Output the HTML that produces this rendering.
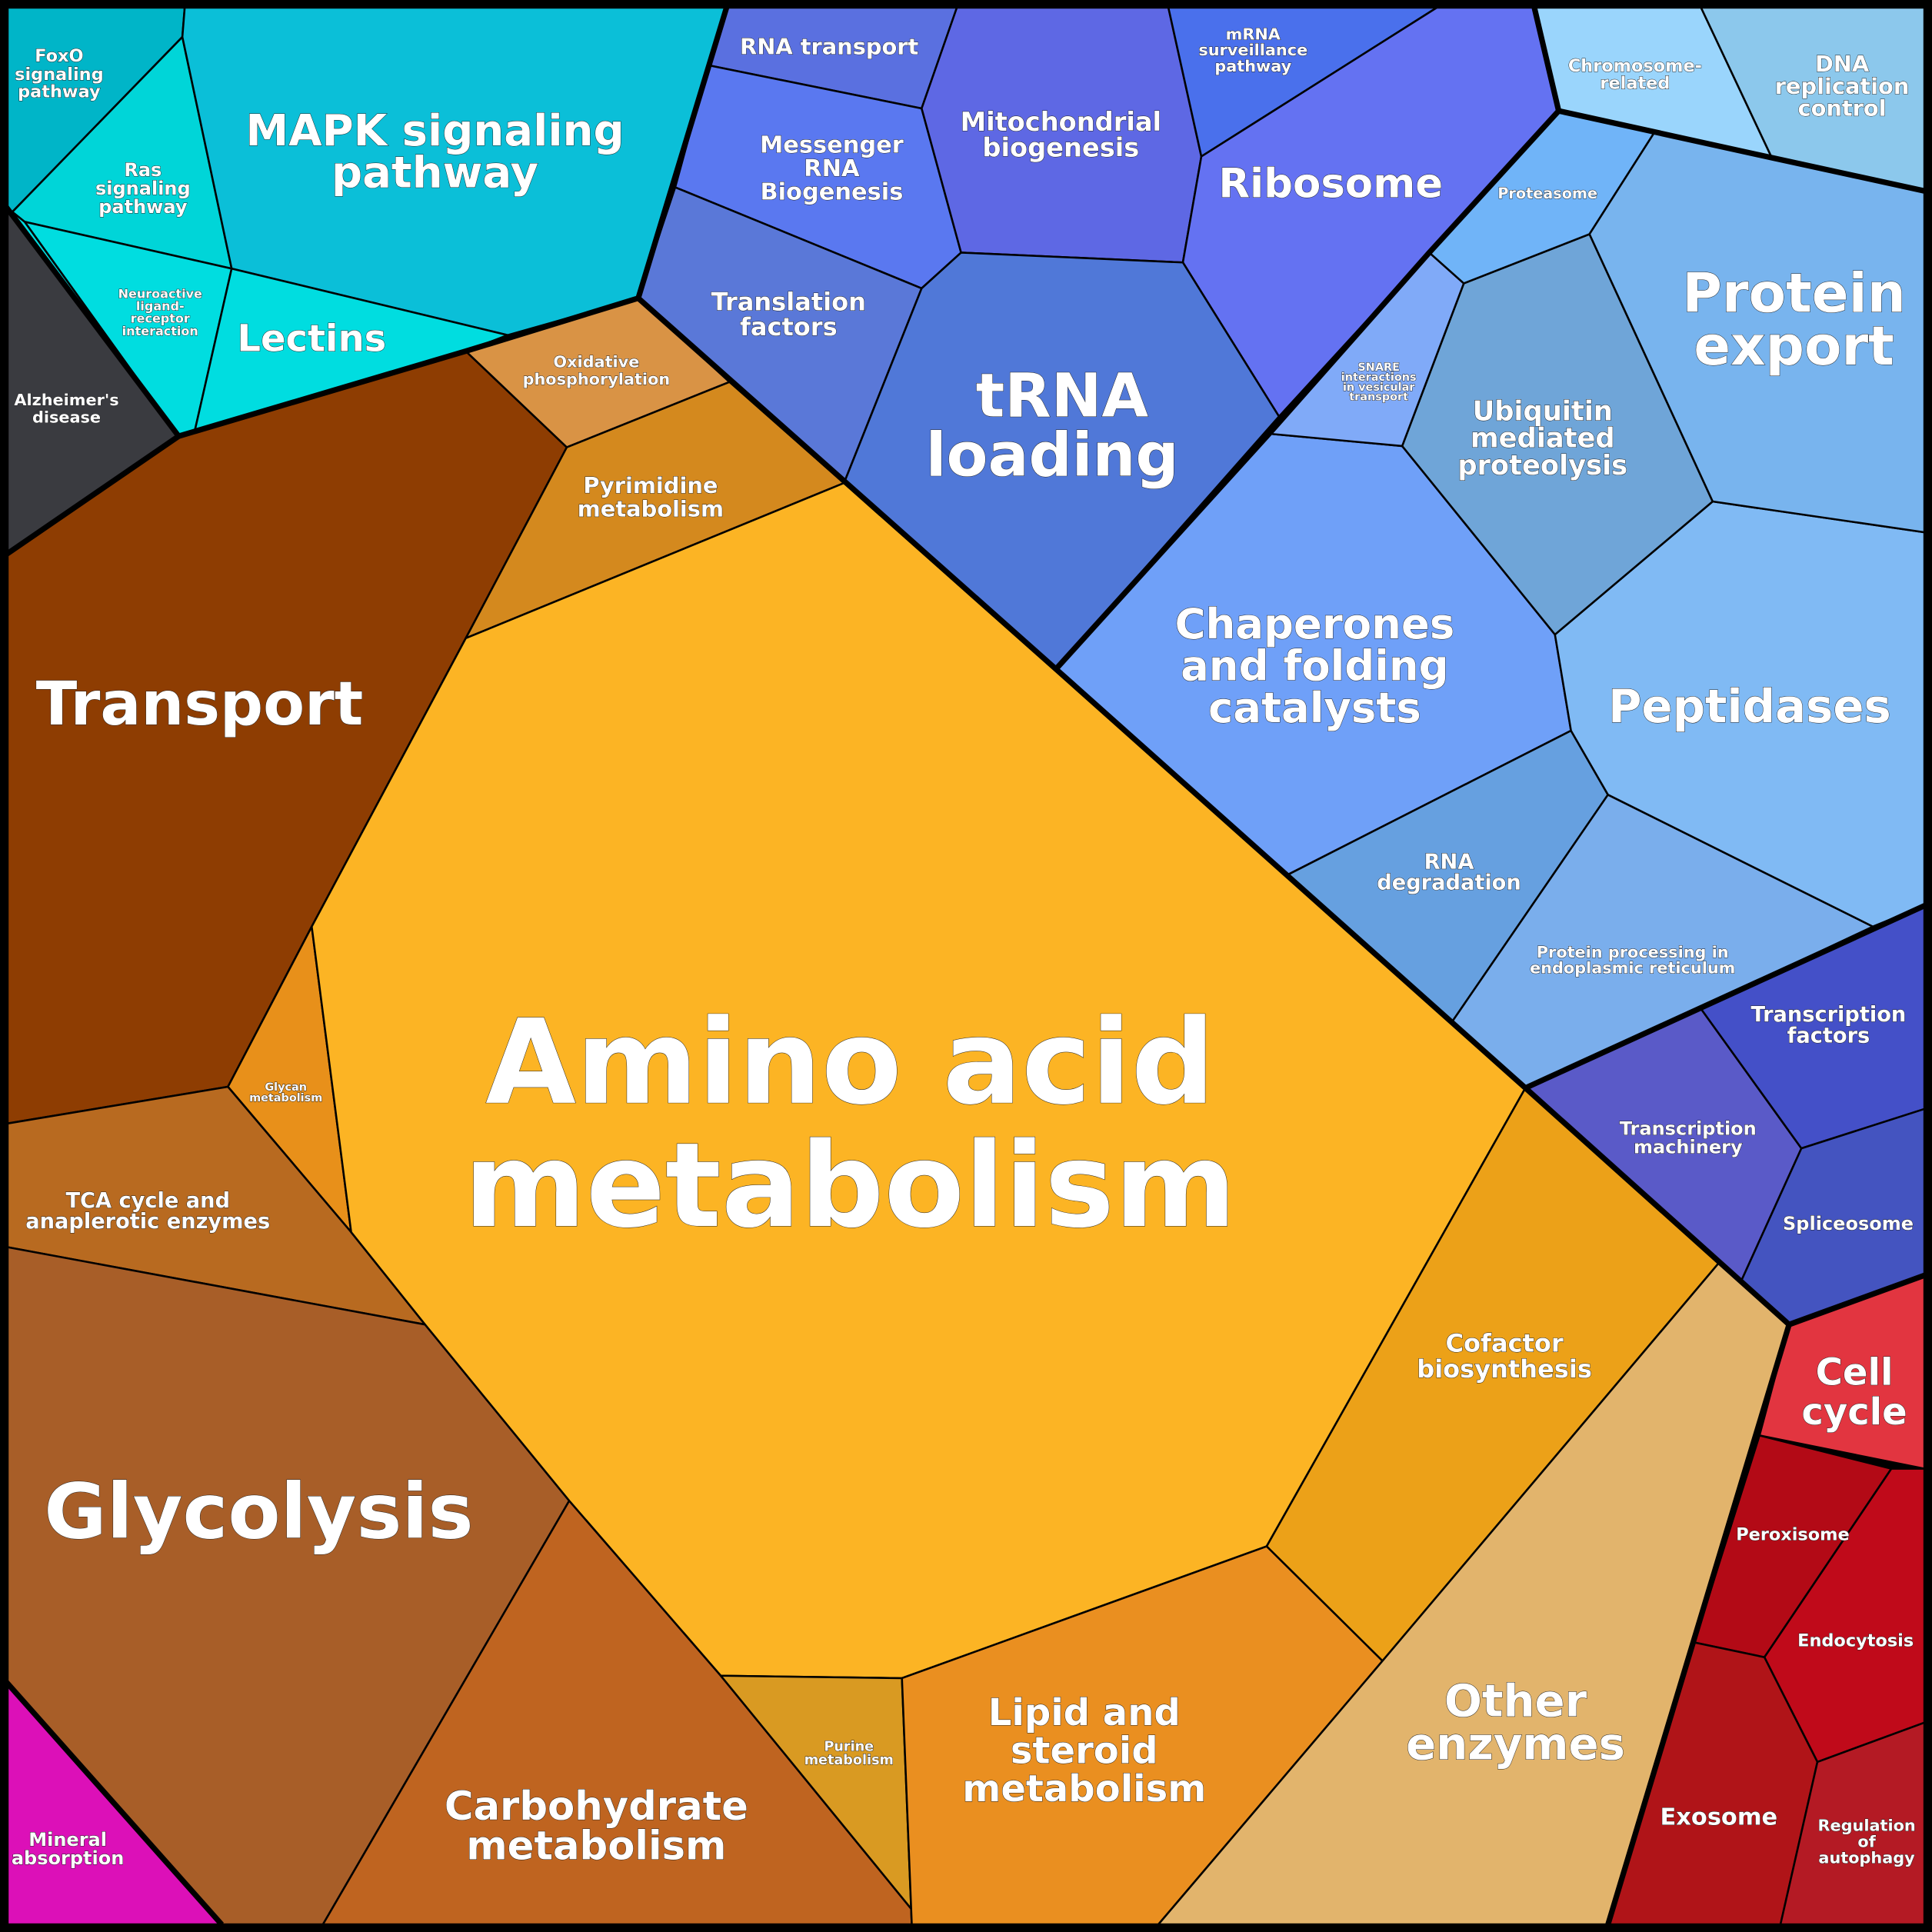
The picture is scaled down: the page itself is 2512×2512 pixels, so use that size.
<!DOCTYPE html>
<html><head><meta charset="utf-8"><style>
html,body{margin:0;padding:0;background:#000}
svg{display:block}
text{font-family:"DejaVu Sans","Liberation Sans",sans-serif;font-weight:bold;fill:#fff;text-anchor:middle;stroke:#222;stroke-width:0.6;paint-order:stroke}
polygon{stroke:#000;stroke-width:1.6;stroke-linejoin:round}
.t{fill:none;stroke:#000;stroke-width:4.5;stroke-linejoin:round}
</style></head><body>
<svg width="2512" height="2512" viewBox="0 0 1568 1568" xmlns="http://www.w3.org/2000/svg">
<rect x="0" y="0" width="1568" height="1568" fill="#000"/>
<polygon fill="#00b5c8" points="5,5 150,5 148,30 10,172 5,170"/>
<polygon fill="#00d5d8" points="148,30 188,218 20,180 10,172"/>
<polygon fill="#0bbfd8" points="150,5 590,5 518,242 412,272 188,218 148,30"/>
<polygon fill="#00dde0" points="20,180 188,218 158,350 145,354"/>
<polygon fill="#00dde0" points="188,218 412,272 378,285 145,354 158,350"/>
<polygon fill="#3a3b40" points="5,168 145,354 5,450"/>
<polygon fill="#00dde0" points="5,168 20,180 145,354"/>
<polygon fill="#8e3d02" points="5,450 145,354 378,285 460,363 378,518 253,752 185,882 5,912"/>
<polygon fill="#d99345" points="378,285 518,242 592,310 460,363"/>
<polygon fill="#d4891e" points="460,363 592,310 685,392 378,518"/>
<polygon fill="#e8901a" points="253,752 285,1000 185,882"/>
<polygon fill="#b86a20" points="5,912 185,882 285,1000 345,1075 5,1012"/>
<polygon fill="#a85e28" points="5,1012 345,1075 462,1218 262,1562 180,1562 5,1365"/>
<polygon fill="#dc10b8" points="5,1365 180,1562 5,1562"/>
<polygon fill="#bf6420" points="462,1218 585,1360 750,1562 262,1562"/>
<polygon fill="#fcb424" points="378,518 685,392 1238,883 1028,1255 732,1362 585,1360 462,1218 345,1075 285,1000 253,752"/>
<polygon fill="#eca118" points="1238,883 1395,1025 1122,1348 1028,1255"/>
<polygon fill="#d99a22" points="585,1360 732,1362 740,1562 750,1562"/>
<polygon fill="#ea8f20" points="732,1362 1028,1255 1122,1348 940,1562 740,1562"/>
<polygon fill="#e2b46c" points="1395,1025 1452,1075 1305,1562 940,1562 1122,1348"/>
<polygon fill="#e23540" points="1452,1075 1562,1035 1562,1192 1428,1165"/>
<polygon fill="#b30a16" points="1428,1165 1535,1192 1432,1345 1375,1333"/>
<polygon fill="#c00a1a" points="1535,1192 1562,1192 1562,1398 1475,1430 1432,1345"/>
<polygon fill="#b01418" points="1375,1333 1432,1345 1475,1430 1445,1562 1305,1562"/>
<polygon fill="#b41a24" points="1475,1430 1562,1398 1562,1562 1445,1562"/>
<polygon fill="#5a5ac8" points="1238,883 1380,818 1462,932 1413,1040 1395,1025"/>
<polygon fill="#4450c8" points="1380,818 1562,735 1562,900 1462,932"/>
<polygon fill="#4454c0" points="1462,932 1562,900 1562,1035 1452,1075 1413,1040"/>
<polygon fill="#6fa0f8" points="857,543 1030,352 1138,362 1262,515 1275,593 1045,710"/>
<polygon fill="#66a0e0" points="1045,710 1275,593 1305,645 1178,830"/>
<polygon fill="#7aaeec" points="1178,830 1305,645 1520,752 1380,818 1238,883"/>
<polygon fill="#80baf4" points="1262,515 1390,407 1562,432 1562,735 1520,752 1305,645 1275,593"/>
<polygon fill="#6fa5d8" points="1138,362 1188,230 1290,190 1390,407 1262,515"/>
<polygon fill="#80aaf8" points="1030,352 1160,205 1188,230 1138,362"/>
<polygon fill="#70b4f8" points="1160,205 1265,90 1343,107 1290,190 1188,230"/>
<polygon fill="#78b4ee" points="1343,107 1438,128 1562,155 1562,432 1390,407 1290,190"/>
<polygon fill="#9ad5fc" points="1245,5 1380,5 1438,128 1265,90"/>
<polygon fill="#8cc8ec" points="1380,5 1562,5 1562,155 1438,128"/>
<polygon fill="#5a70e0" points="590,5 777,5 748,88 575,53"/>
<polygon fill="#5a78f0" points="575,53 748,88 780,205 748,234 548,152"/>
<polygon fill="#5a78d8" points="548,152 748,234 685,392 518,242"/>
<polygon fill="#5e68e4" points="777,5 948,5 975,127 960,213 780,205 748,88"/>
<polygon fill="#4a70ec" points="948,5 1168,5 975,127"/>
<polygon fill="#6472f2" points="1168,5 1245,5 1265,90 1160,205 1038,338 960,213 975,127"/>
<polygon fill="#5078d8" points="748,234 780,205 960,213 1038,338 857,543 685,392"/>
<polyline class="t" points="5,168 145,354 5,450"/>
<polyline class="t" points="145,354 378,285 518,242 590,5"/>
<polyline class="t" points="518,242 857,543 1238,883 1452,1075 1305,1562"/>
<polyline class="t" points="1452,1075 1562,1035"/>
<polyline class="t" points="1238,883 1562,735"/>
<polyline class="t" points="857,543 1030,352 1160,205 1265,90 1245,5"/>
<polyline class="t" points="1265,90 1438,128 1562,155"/>
<polyline class="t" points="5,1365 180,1562"/>
<rect x="3" y="3" width="1562" height="1562" fill="none" stroke="#000" stroke-width="8"/>

<text font-size="14" x="48" y="50">FoxO</text><text font-size="14" x="48" y="65">signaling</text><text font-size="14" x="48" y="79">pathway</text>
<text font-size="15" x="116" y="143">Ras</text><text font-size="15" x="116" y="158">signaling</text><text font-size="15" x="116" y="173">pathway</text>
<text font-size="35" x="353" y="118">MAPK signaling</text><text font-size="35" x="353" y="152">pathway</text>
<text font-size="10" x="130" y="242">Neuroactive</text><text font-size="10" x="130" y="252">ligand-</text><text font-size="10" x="130" y="262">receptor</text><text font-size="10" x="130" y="272">interaction</text>
<text font-size="30" x="253" y="285">Lectins</text>
<text font-size="13" x="54" y="329">Alzheimer's</text><text font-size="13" x="54" y="343">disease</text>
<text font-size="49" x="162" y="588">Transport</text>
<text font-size="13" x="484" y="298">Oxidative</text><text font-size="13" x="484" y="312">phosphorylation</text>
<text font-size="18" x="528" y="400">Pyrimidine</text><text font-size="18" x="528" y="419">metabolism</text>
<text font-size="9" x="232" y="885">Glycan</text><text font-size="9" x="232" y="894">metabolism</text>
<text font-size="95" x="690" y="895">Amino acid</text><text font-size="95" x="690" y="995">metabolism</text>
<text font-size="17" x="120" y="980">TCA cycle and</text><text font-size="17" x="120" y="997">anaplerotic enzymes</text>
<text font-size="62" x="210" y="1248">Glycolysis</text>
<text font-size="15" x="55" y="1498">Mineral</text><text font-size="15" x="55" y="1513">absorption</text>
<text font-size="32" x="484" y="1477">Carbohydrate</text><text font-size="32" x="484" y="1509">metabolism</text>
<text font-size="11" x="689" y="1421">Purine</text><text font-size="11" x="689" y="1432">metabolism</text>
<text font-size="30" x="880" y="1400">Lipid and</text><text font-size="30" x="880" y="1431">steroid</text><text font-size="30" x="880" y="1462">metabolism</text>
<text font-size="20" x="1221" y="1097">Cofactor</text><text font-size="20" x="1221" y="1118">biosynthesis</text>
<text font-size="36" x="1230" y="1393">Other</text><text font-size="36" x="1230" y="1428">enzymes</text>
<text font-size="30" x="1505" y="1124">Cell</text><text font-size="30" x="1505" y="1156">cycle</text>
<text font-size="14" x="1455" y="1250">Peroxisome</text>
<text font-size="14" x="1506" y="1336">Endocytosis</text>
<text font-size="19" x="1395" y="1481">Exosome</text>
<text font-size="13" x="1515" y="1486">Regulation</text><text font-size="13" x="1515" y="1499">of</text><text font-size="13" x="1515" y="1512">autophagy</text>
<text font-size="15" x="1370" y="921">Transcription</text><text font-size="15" x="1370" y="936">machinery</text>
<text font-size="17" x="1484" y="829">Transcription</text><text font-size="17" x="1484" y="846">factors</text>
<text font-size="15" x="1500" y="998">Spliceosome</text>
<text font-size="34" x="1067" y="518">Chaperones</text><text font-size="34" x="1067" y="552">and folding</text><text font-size="34" x="1067" y="586">catalysts</text>
<text font-size="17" x="1176" y="705">RNA</text><text font-size="17" x="1176" y="722">degradation</text>
<text font-size="13" x="1325" y="777">Protein processing in</text><text font-size="13" x="1325" y="790">endoplasmic reticulum</text>
<text font-size="37" x="1420" y="586">Peptidases</text>
<text font-size="22" x="1252" y="341">Ubiquitin</text><text font-size="22" x="1252" y="363">mediated</text><text font-size="22" x="1252" y="385">proteolysis</text>
<text font-size="9" x="1119" y="301">SNARE</text><text font-size="9" x="1119" y="309">interactions</text><text font-size="9" x="1119" y="317">in vesicular</text><text font-size="9" x="1119" y="325">transport</text>
<text font-size="12" x="1256" y="161">Proteasome</text>
<text font-size="44" x="1456" y="253">Protein</text><text font-size="44" x="1456" y="296">export</text>
<text font-size="14" x="1327" y="58">Chromosome-</text><text font-size="14" x="1327" y="72">related</text>
<text font-size="18" x="1495" y="58">DNA</text><text font-size="18" x="1495" y="76">replication</text><text font-size="18" x="1495" y="94">control</text>
<text font-size="18" x="673" y="44">RNA transport</text>
<text font-size="19" x="675" y="124">Messenger</text><text font-size="19" x="675" y="143">RNA</text><text font-size="19" x="675" y="162">Biogenesis</text>
<text font-size="20" x="640" y="252">Translation</text><text font-size="20" x="640" y="272">factors</text>
<text font-size="21" x="861" y="106">Mitochondrial</text><text font-size="21" x="861" y="127">biogenesis</text>
<text font-size="13" x="1017" y="32">mRNA</text><text font-size="13" x="1017" y="45">surveillance</text><text font-size="13" x="1017" y="58">pathway</text>
<text font-size="33" x="1080" y="160">Ribosome</text>
<text font-size="49" x="862" y="338">tRNA</text><text font-size="49" x="854" y="386">loading</text>
</svg>
</body></html>
